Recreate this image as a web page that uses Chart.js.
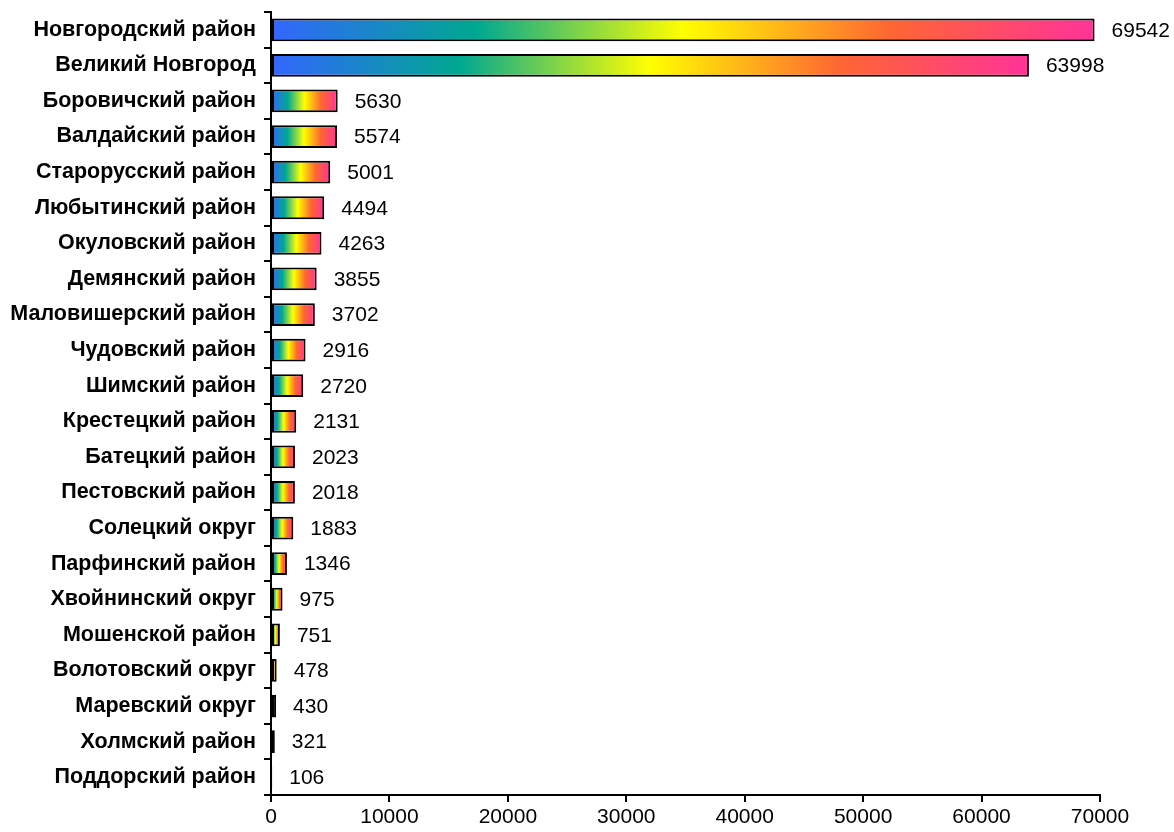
<!DOCTYPE html>
<html>
<head>
<meta charset="utf-8">
<script src="https://cdn.jsdelivr.net/npm/chart.js@4"></script>
<style>
  html, body { margin: 0; padding: 0; background: #fff; }
  #wrap { width: 1174px; height: 832px; }
</style>
</head>
<body>
<div id="wrap"><canvas id="myChart"></canvas></div>
<script>
const rayony = [
  "Новгородский район", "Великий Новгород", "Боровичский район", "Валдайский район",
  "Старорусский район", "Любытинский район", "Окуловский район", "Демянский район",
  "Маловишерский район", "Чудовский район", "Шимский район", "Крестецкий район",
  "Батецкий район", "Пестовский район", "Солецкий округ", "Парфинский район",
  "Хвойнинский округ", "Мошенской район", "Волотовский округ", "Маревский округ",
  "Холмский район", "Поддорский район"
];
const znacheniya = [
  69542, 63998, 5630, 5574, 5001, 4494, 4263, 3855, 3702, 2916, 2720,
  2131, 2023, 2018, 1883, 1346, 975, 751, 478, 430, 321, 106
];
const xMax = 70000;
const xShag = 10000;

Chart.defaults.font.family = "'Liberation Sans', Arial, sans-serif";
Chart.defaults.color = "#000";

function raduga(context) {
  const chart = context.chart;
  if (!chart.chartArea || context.parsed === undefined) return "#3366ff";
  const x0 = chart.scales.x.getPixelForValue(0);
  const x1 = chart.scales.x.getPixelForValue(context.parsed.x);
  if (x1 - x0 < 1) return "#3366ff";
  const g = chart.ctx.createLinearGradient(x0, 0, x1, 0);
  g.addColorStop(0, "#3366ff");
  g.addColorStop(0.25, "#00a890");
  g.addColorStop(0.5, "#ffff00");
  g.addColorStop(0.75, "#ff6633");
  g.addColorStop(1, "#ff3399");
  return g;
}

// подписи значений справа от столбцов
const podpisi = {
  id: "podpisi",
  afterDatasetsDraw(chart) {
    const ctx = chart.ctx;
    const meta = chart.getDatasetMeta(0);
    ctx.save();
    ctx.font = "21px 'Liberation Sans', Arial, sans-serif";
    ctx.fillStyle = "#000";
    ctx.textAlign = "left";
    ctx.textBaseline = "middle";
    meta.data.forEach((bar, i) => {
      ctx.fillText(String(znacheniya[i]), bar.x + 17, bar.y + 1);
    });
    ctx.restore();
  }
};

const myChart = document.querySelector("#myChart");
new Chart(myChart, {
  type: "bar",
  data: {
    labels: rayony,
    datasets: [{
      data: znacheniya,
      backgroundColor: raduga,
      borderColor: "#000",
      borderWidth: 2,
      borderSkipped: false,
      barPercentage: 0.64,
      categoryPercentage: 1
    }]
  },
  options: {
    indexAxis: "y",
    responsive: true,
    maintainAspectRatio: false,
    animation: false,
    layout: { padding: { top: 12, right: 74, left: 0, bottom: 0 } },
    plugins: { legend: { display: false }, tooltip: { enabled: false } },
    scales: {
      x: {
        min: 0,
        max: xMax,
        ticks: {
          stepSize: xShag,
          font: { size: 21 },
          padding: 3,
          maxRotation: 0,
          callback: (v) => String(v)
        },
        grid: { drawOnChartArea: false, drawTicks: true, tickLength: 7, color: "#000", lineWidth: 2 },
        border: { color: "#000", width: 2 },
        afterFit(scale) { scale.height = 37; }
      },
      y: {
        ticks: { font: { size: 21.5, weight: "bold" }, padding: 8 },
        grid: { drawOnChartArea: false, drawTicks: true, tickLength: 7, color: "#000", lineWidth: 2, offset: true },
        border: { color: "#000", width: 2 },
        afterFit(scale) {
          scale.width = 271;
          scale.paddingTop = 0;
          scale.paddingBottom = 0;
        }
      }
    }
  },
  plugins: [podpisi]
});
</script>
</body>
</html>
